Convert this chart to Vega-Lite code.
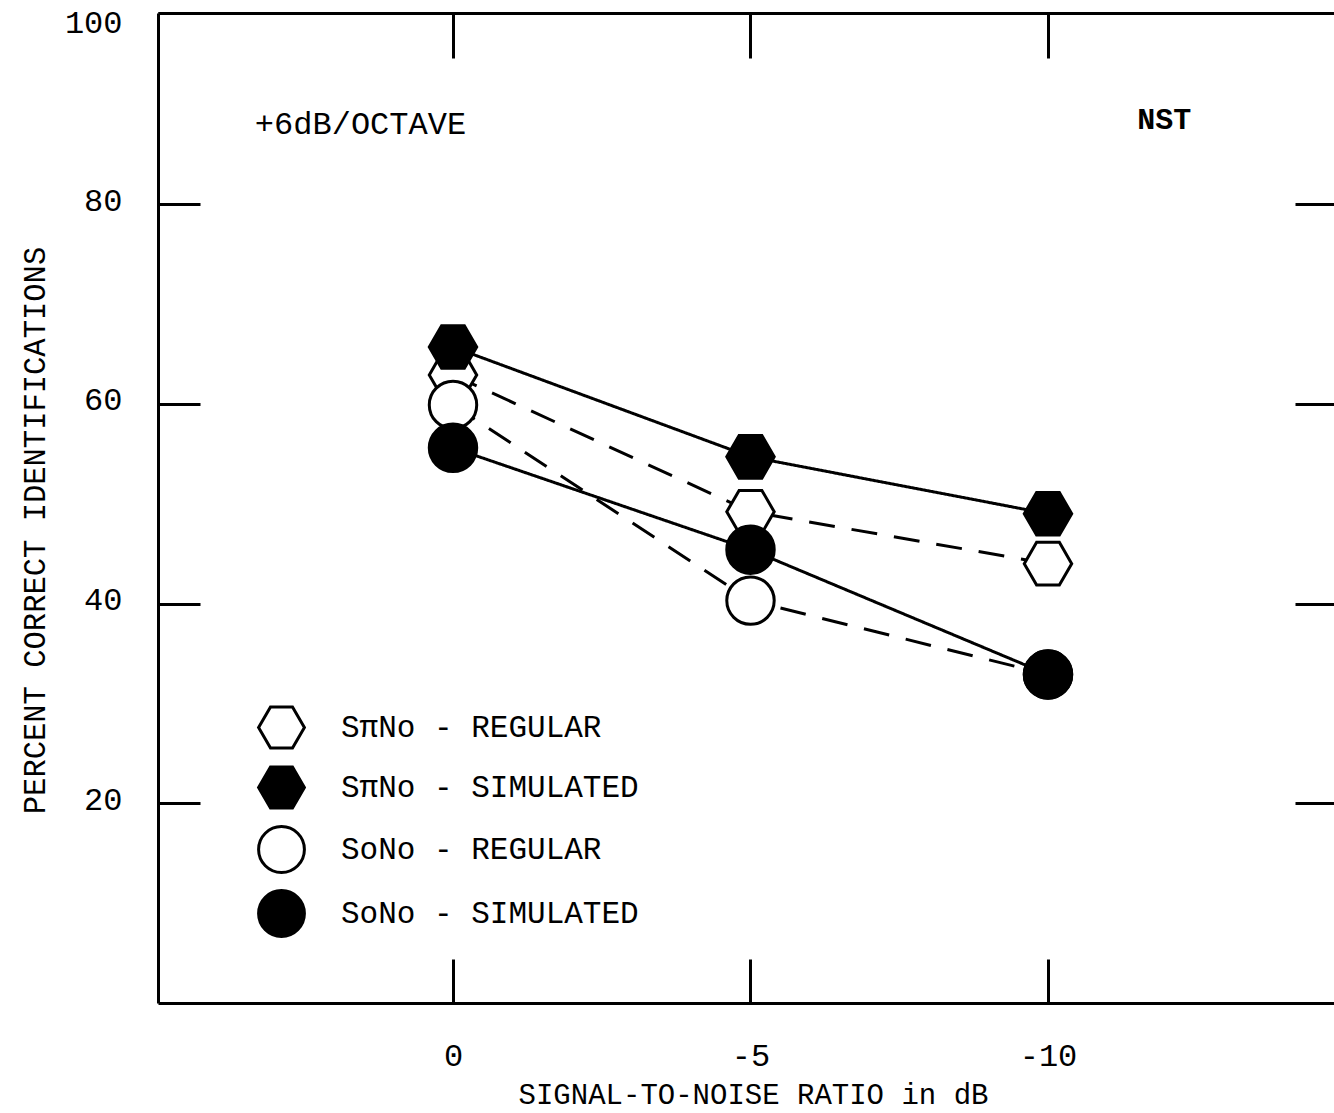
{
  "$schema": "https://vega.github.io/schema/vega-lite/v6.json",
  "width": 1176,
  "height": 990,
  "autosize": {"type": "none"},
  "padding": {"left": 158, "top": 13, "right": 0, "bottom": 110},
  "background": "white",
  "config": {
    "view": {"stroke": null},
    "font": "Liberation Mono",
    "legend": {
      "orient": "none",
      "legendX": 99,
      "legendY": 690,
      "padding": 0,
      "symbolSize": 2100,
      "symbolStrokeWidth": 3,
      "symbolStrokeColor": "black",
      "labelFont": "Liberation Mono",
      "labelFontSize": 31,
      "labelColor": "black",
      "labelOffset": 35,
      "labelLimit": 0,
      "rowPadding": 5
    }
  },
  "datasets": {
    "obs": [
      {"series": "SπNo - REGULAR", "kind": "REGULAR", "snr": 0, "pct": 62.9},
      {"series": "SπNo - REGULAR", "kind": "REGULAR", "snr": -5, "pct": 49.2},
      {"series": "SπNo - REGULAR", "kind": "REGULAR", "snr": -10, "pct": 44.0},
      {"series": "SoNo - REGULAR", "kind": "REGULAR", "snr": 0, "pct": 59.9},
      {"series": "SoNo - REGULAR", "kind": "REGULAR", "snr": -5, "pct": 40.3},
      {"series": "SoNo - REGULAR", "kind": "REGULAR", "snr": -10, "pct": 32.9},
      {"series": "SπNo - SIMULATED", "kind": "SIMULATED", "snr": 0, "pct": 65.7},
      {"series": "SπNo - SIMULATED", "kind": "SIMULATED", "snr": -5, "pct": 54.7},
      {"series": "SπNo - SIMULATED", "kind": "SIMULATED", "snr": -10, "pct": 49.0},
      {"series": "SoNo - SIMULATED", "kind": "SIMULATED", "snr": 0, "pct": 55.6},
      {"series": "SoNo - SIMULATED", "kind": "SIMULATED", "snr": -5, "pct": 45.4},
      {"series": "SoNo - SIMULATED", "kind": "SIMULATED", "snr": -10, "pct": 32.9}
    ]
  },
  "layer": [
    {
      "data": {"name": "obs"},
      "mark": {"type": "line", "color": "black", "strokeWidth": 3},
      "encoding": {
        "x": {
          "field": "snr", "type": "quantitative",
          "scale": {"domain": [-14.807, 4.958], "reverse": true, "nice": false, "zero": false},
          "axis": {
            "orient": "bottom", "values": [0, -5, -10], "grid": false,
            "labelExpr": "'' + datum.value", "labelFlush": false,
            "domainColor": "black", "domainWidth": 3,
            "tickColor": "black", "tickWidth": 3, "tickSize": -44,
            "labelPadding": 81, "labelFontSize": 32, "labelFont": "Liberation Mono", "labelColor": "black",
            "title": "SIGNAL-TO-NOISE RATIO in dB", "titleFont": "Liberation Mono", "titleFontSize": 29,
            "titleFontWeight": "normal", "titleColor": "black",
            "titleX": 595, "titleY": 100, "titleBaseline": "alphabetic", "titleAlign": "center"
          }
        },
        "y": {
          "field": "pct", "type": "quantitative",
          "scale": {"domain": [0, 99.15], "nice": false, "zero": false},
          "axis": {
            "orient": "left", "values": [20, 40, 60, 80, 99.15], "grid": false,
            "labelExpr": "datum.value > 99 ? '100' : '' + datum.value",
            "labelOffset": {"condition": {"test": "datum.value > 99", "value": 9}, "value": -4},
            "labelFlush": false, "labelOverlap": false,
            "domainColor": "black", "domainWidth": 3,
            "tickColor": "black", "tickWidth": 3, "tickSize": -42,
            "labelPadding": 78, "labelFontSize": 32, "labelFont": "Liberation Mono", "labelColor": "black",
            "title": "PERCENT CORRECT IDENTIFICATIONS", "titleFont": "Liberation Mono", "titleFontSize": 30.5,
            "titleFontWeight": "normal", "titleColor": "black",
            "titleX": -123, "titleY": 517, "titleAngle": 270, "titleBaseline": "middle", "titleAlign": "center"
          }
        },
        "detail": {"field": "series"},
        "strokeDash": {
          "field": "kind", "type": "nominal",
          "scale": {"domain": ["REGULAR", "SIMULATED"], "range": [[26, 17], [1, 0]]},
          "legend": null
        }
      }
    },
    {
      "data": {"name": "obs"},
      "mark": {"type": "point", "filled": true, "strokeWidth": 3, "size": 2250, "opacity": 1},
      "encoding": {
        "x": {
          "field": "snr", "type": "quantitative",
          "scale": {"domain": [-14.807, 4.958], "reverse": true, "nice": false, "zero": false},
          "axis": {
            "orient": "top", "values": [0, -5, -10], "grid": false, "labels": false, "title": null,
            "domainColor": "black", "domainWidth": 3,
            "tickColor": "black", "tickWidth": 3, "tickSize": -45
          }
        },
        "y": {
          "field": "pct", "type": "quantitative",
          "scale": {"domain": [0, 99.15], "nice": false, "zero": false},
          "axis": {
            "orient": "right", "values": [20, 40, 60, 80], "grid": false, "labels": false, "title": null,
            "domain": false, "tickColor": "black", "tickWidth": 3, "tickSize": -39
          }
        },
        "shape": {
          "field": "series", "type": "nominal",
          "scale": {
            "domain": ["SπNo - REGULAR", "SπNo - SIMULATED", "SoNo - REGULAR", "SoNo - SIMULATED"],
            "range": ["M-1,0L-0.48,-0.9L0.48,-0.9L1,0L0.48,0.9L-0.48,0.9Z", "M-1,0L-0.48,-0.9L0.48,-0.9L1,0L0.48,0.9L-0.48,0.9Z", "circle", "circle"]
          },
          "legend": {"title": null}
        },
        "fill": {
          "field": "series", "type": "nominal",
          "scale": {
            "domain": ["SπNo - REGULAR", "SπNo - SIMULATED", "SoNo - REGULAR", "SoNo - SIMULATED"],
            "range": ["white", "black", "white", "black"]
          },
          "legend": {"title": null}
        },
        "stroke": {
          "field": "series", "type": "nominal",
          "scale": {
            "domain": ["SπNo - REGULAR", "SπNo - SIMULATED", "SoNo - REGULAR", "SoNo - SIMULATED"],
            "range": ["black", "black", "black", "black"]
          },
          "legend": {"title": null}
        }
      }
    },
    {
      "data": {"values": [{"note": "+6dB/OCTAVE"}]},
      "mark": {"type": "text", "align": "left", "baseline": "middle", "font": "Liberation Mono", "fontSize": 32, "color": "black"},
      "encoding": {
        "x": {"datum": 3.33, "type": "quantitative", "scale": {"domain": [-14.807, 4.958], "reverse": true, "nice": false, "zero": false}, "axis": null},
        "y": {"datum": 88.0, "type": "quantitative", "scale": {"domain": [0, 99.15], "nice": false, "zero": false}, "axis": null},
        "text": {"field": "note"}
      }
    },
    {
      "data": {"values": [{"note": "NST"}]},
      "mark": {"type": "text", "align": "left", "baseline": "middle", "font": "Liberation Mono", "fontSize": 30, "fontWeight": "bold", "color": "black"},
      "encoding": {
        "x": {"datum": -11.5, "type": "quantitative", "scale": {"domain": [-14.807, 4.958], "reverse": true, "nice": false, "zero": false}, "axis": null},
        "y": {"datum": 88.4, "type": "quantitative", "scale": {"domain": [0, 99.15], "nice": false, "zero": false}, "axis": null},
        "text": {"field": "note"}
      }
    }
  ],
  "resolve": {"axis": {"x": "independent", "y": "independent"}}
}
